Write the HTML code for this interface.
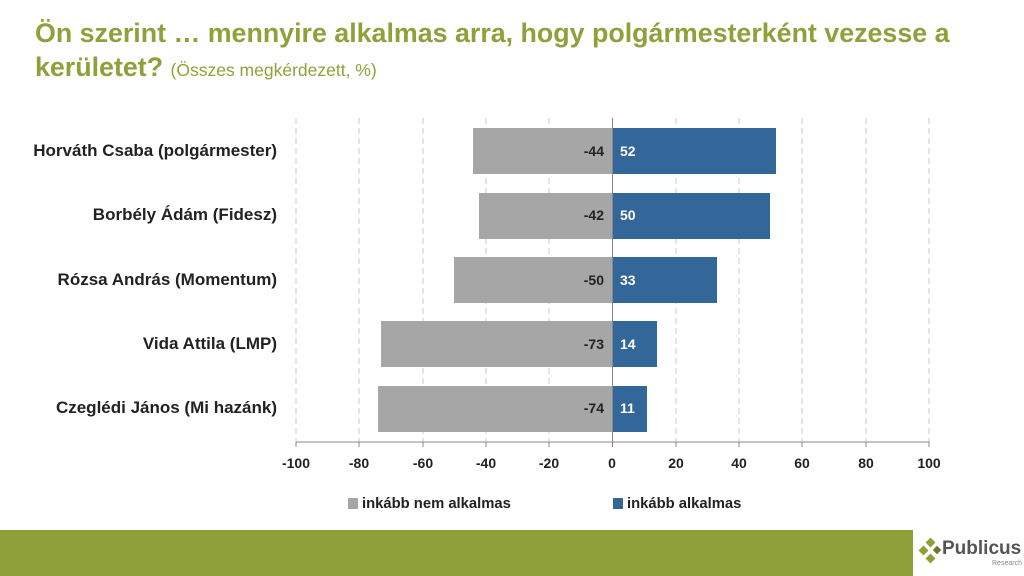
<!DOCTYPE html>
<html><head><meta charset="utf-8"><style>
body{margin:0;width:1024px;height:576px;background:#fff;position:relative;overflow:hidden;font-family:"Liberation Sans",sans-serif}
.t{position:absolute;left:35px;color:#8fa13a;font-weight:bold;font-size:26.8px;white-space:nowrap}
.lab{position:absolute;right:747px;font-weight:bold;font-size:17px;color:#222;white-space:nowrap}
.bar{position:absolute;height:46px}
.g{background:#a6a6a6}.b{background:#336699}
.v{position:absolute;font-weight:bold;font-size:14px}
.tk{position:absolute;top:455px;width:50px;margin-left:-25px;text-align:center;font-weight:bold;font-size:14px;color:#222}
</style></head><body>
<div class="t" style="top:18px">Ön szerint … mennyire alkalmas arra, hogy polgármesterként vezesse a</div>
<div class="t" style="top:52px">kerületet? <span style="font-weight:normal;font-size:17.5px">(Összes megkérdezett, %)</span></div>
<svg style="position:absolute;left:0;top:0" width="1024" height="576">
<g stroke="#c8c8c8" stroke-dasharray="6,4" stroke-width="1">
<line x1="296" y1="118" x2="296" y2="442"/><line x1="359" y1="118" x2="359" y2="442"/><line x1="423" y1="118" x2="423" y2="442"/><line x1="486" y1="118" x2="486" y2="442"/><line x1="549" y1="118" x2="549" y2="442"/><line x1="676" y1="118" x2="676" y2="442"/><line x1="739" y1="118" x2="739" y2="442"/><line x1="802" y1="118" x2="802" y2="442"/><line x1="866" y1="118" x2="866" y2="442"/><line x1="929" y1="118" x2="929" y2="442"/>
</g>
<g stroke="#888" stroke-width="1">
<line x1="296" y1="442" x2="929" y2="442"/>
<line x1="612.5" y1="118" x2="612.5" y2="447"/>
<line x1="296" y1="442" x2="296" y2="447"/><line x1="359" y1="442" x2="359" y2="447"/><line x1="423" y1="442" x2="423" y2="447"/><line x1="486" y1="442" x2="486" y2="447"/><line x1="549" y1="442" x2="549" y2="447"/><line x1="676" y1="442" x2="676" y2="447"/><line x1="739" y1="442" x2="739" y2="447"/><line x1="802" y1="442" x2="802" y2="447"/><line x1="866" y1="442" x2="866" y2="447"/><line x1="929" y1="442" x2="929" y2="447"/>
</g></svg>
<div class="lab" style="top:141px">Horváth Csaba (polgármester)</div>
<div class="lab" style="top:205px">Borbély Ádám (Fidesz)</div>
<div class="lab" style="top:270px">Rózsa András (Momentum)</div>
<div class="lab" style="top:334px">Vida Attila (LMP)</div>
<div class="lab" style="top:398px">Czeglédi János (Mi hazánk)</div>

<div class="bar g" style="top:128px;left:473px;width:139px"></div><div class="bar b" style="top:128px;left:613px;width:163px"></div>
<div class="bar g" style="top:193px;left:479px;width:133px"></div><div class="bar b" style="top:193px;left:613px;width:157px"></div>
<div class="bar g" style="top:257px;left:454px;width:158px"></div><div class="bar b" style="top:257px;left:613px;width:104px"></div>
<div class="bar g" style="top:321px;left:381px;width:231px"></div><div class="bar b" style="top:321px;left:613px;width:44px"></div>
<div class="bar g" style="top:386px;left:378px;width:234px"></div><div class="bar b" style="top:386px;left:613px;width:34px"></div>

<div class="v" style="top:143px;right:420px;color:#222">-44</div><div class="v" style="top:143px;left:620px;color:#fff">52</div>
<div class="v" style="top:207px;right:420px;color:#222">-42</div><div class="v" style="top:207px;left:620px;color:#fff">50</div>
<div class="v" style="top:272px;right:420px;color:#222">-50</div><div class="v" style="top:272px;left:620px;color:#fff">33</div>
<div class="v" style="top:336px;right:420px;color:#222">-73</div><div class="v" style="top:336px;left:620px;color:#fff">14</div>
<div class="v" style="top:400px;right:420px;color:#222">-74</div><div class="v" style="top:400px;left:620px;color:#fff">11</div>

<div class="tk" style="left:296px">-100</div><div class="tk" style="left:359px">-80</div><div class="tk" style="left:423px">-60</div><div class="tk" style="left:486px">-40</div><div class="tk" style="left:549px">-20</div><div class="tk" style="left:612px">0</div><div class="tk" style="left:676px">20</div><div class="tk" style="left:739px">40</div><div class="tk" style="left:802px">60</div><div class="tk" style="left:866px">80</div><div class="tk" style="left:929px">100</div>

<div style="position:absolute;left:348px;top:498px;width:10px;height:11px;background:#a6a6a6"></div>
<div style="position:absolute;left:362px;top:496px;font-weight:bold;font-size:14.8px;color:#222">inkább nem alkalmas</div>
<div style="position:absolute;left:613px;top:498px;width:10px;height:11px;background:#336699"></div>
<div style="position:absolute;left:627px;top:496px;font-weight:bold;font-size:14.8px;color:#222">inkább alkalmas</div>

<div style="position:absolute;left:0;top:530px;width:913px;height:46px;background:#8fa03a"></div>
<svg style="position:absolute;left:918px;top:538px" width="24" height="28" viewBox="0 0 24 28">
<g fill="#8fa03a"><rect x="9" y="1" width="7" height="7" transform="rotate(45 12.5 4.5)"/><rect x="2" y="9" width="7" height="7" transform="rotate(45 5.5 12.5)"/><rect x="9" y="17" width="7" height="7" transform="rotate(45 12.5 20.5)"/></g>
<rect x="16" y="9" width="6" height="6" fill="#6a7a2a" transform="rotate(45 19 12)"/></svg>
<div style="position:absolute;left:942px;top:538px;font-weight:bold;font-size:19px;color:#555">Publicus</div>
<div style="position:absolute;left:992px;top:560px;font-size:7px;color:#888">Research</div>
</body></html>
